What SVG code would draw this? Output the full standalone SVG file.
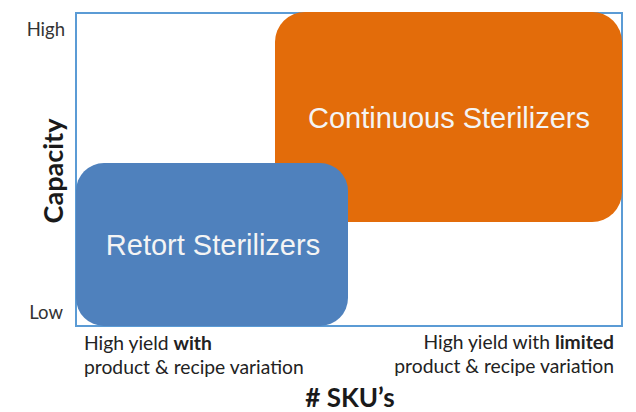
<svg xmlns="http://www.w3.org/2000/svg" width="636" height="412" viewBox="0 0 636 412">
  <style>
    .axis { font-family: Lato, "Open Sans", "Liberation Sans", sans-serif; fill: #1a1a1a; }
    .tick { font-size: 18.5px; fill: #333; }
    .title { font-weight: bold; }
    .note { font-size: 19.3px; fill: #222; }
    .label { font-family: "Liberation Sans", Arial, sans-serif; fill: #f4f4f4; text-anchor: middle; }
  </style>
  <rect width="636" height="412" fill="#ffffff"/>

  <!-- plot area frame -->
  <g id="frame">
    <rect x="76" y="13" width="546" height="313" fill="#ffffff" stroke="#5b9bd5" stroke-width="2"/>
  </g>

  <g id="continuous">
    <rect x="275" y="12" width="347" height="210" rx="30" ry="30" fill="#e36c0a"/>
    <text class="label" x="449" y="128" font-size="29">Continuous Sterilizers</text>
  </g>

  <g id="retort">
    <rect x="76" y="163" width="272" height="163" rx="28" ry="28" fill="#4f81bd"/>
    <text class="label" x="213" y="255" font-size="29">Retort Sterilizers</text>
  </g>

  <!-- axes -->
  <g id="axis-y">
    <text class="axis tick" x="65" y="36" text-anchor="end">High</text>
    <text class="axis tick" x="63" y="319" text-anchor="end">Low</text>
    <text class="axis title" font-size="27" transform="translate(63,171) rotate(-90)" text-anchor="middle">Capacity</text>
  </g>
  <g id="axis-x">
    <text class="axis note" x="84" y="350">High yield <tspan font-weight="bold">with</tspan></text>
    <text class="axis note" x="84" y="374">product &amp; recipe variation</text>
    <text class="axis note" x="614" y="349" text-anchor="end">High yield with <tspan font-weight="bold">limited</tspan></text>
    <text class="axis note" x="614" y="373" text-anchor="end">product &amp; recipe variation</text>
    <text class="axis title" font-size="26" x="350" y="407" text-anchor="middle"># SKU’s</text>
  </g>
</svg>
